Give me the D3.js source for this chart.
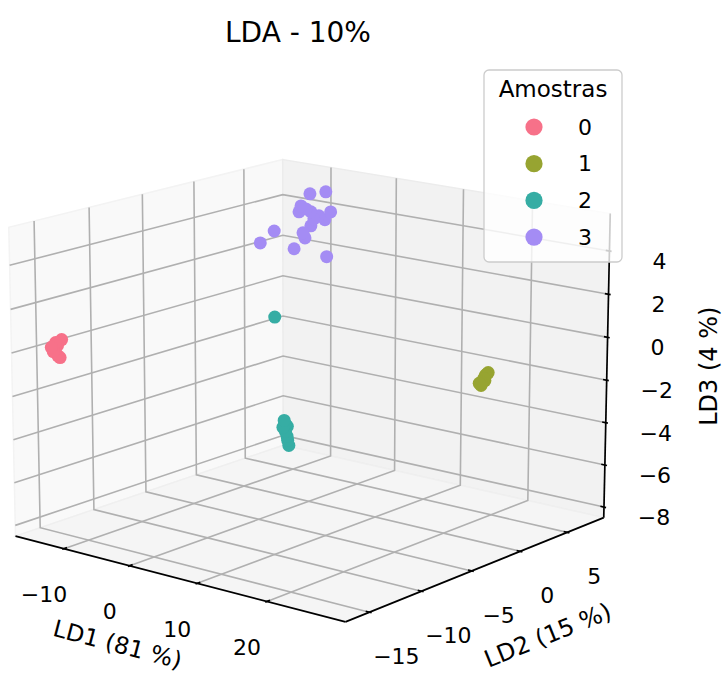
<!DOCTYPE html>
<html>
<head>
<meta charset="utf-8">
<script src="https://cdn.jsdelivr.net/npm/d3@7/dist/d3.min.js"></script>
<style>
  html, body { margin: 0; padding: 0; background: #ffffff; }
  svg { display: block; font-family: "DejaVu Sans", sans-serif; }
</style>
</head>
<body>
<svg id="chart" width="723" height="676"></svg>
<script>
// ---- Data: LDA scores per sample class (LD1, LD2, LD3) ----
const classes = ["0", "1", "2", "3"];
const classColors = ["#f77189", "#97a431", "#36ada4", "#a48cf4"];

const ld1_0 = [-14.42, -14.55, -14.61, -14.48, -14.39, -14.52, -14.57, -14.46];
const ld2_0 = [-14.55, -15.02, -15.38, -15.29, -14.93, -14.66, -14.84, -15.11];
const ld3_0 = [0.43, 0.35, 0.18, -0.02, -0.26, -0.39, 0.19, 0.04];

const ld1_1 = [27.58, 27.47, 27.52, 27.44, 27.55, 27.49, 27.41, 27.53];
const ld2_1 = [-1.10, -1.30, -1.49, -1.69, -1.79, -1.20, -1.88, -1.39];
const ld3_1 = [-0.35, -0.45, -0.56, -0.71, -0.83, -0.42, -0.73, -0.67];

const ld1_2 = [-11.74, -11.85, -11.79, -11.88, -11.72, -11.81, -11.77, -11.83, -11.80, -11.80];
const ld2_2 = [5.26, 5.47, 5.16, 5.68, 5.37, 5.47, 5.58, 5.68, 5.78, 4.35];
const ld3_2 = [-6.25, -6.48, -6.58, -6.62, -6.81, -6.73, -7.10, -7.31, -7.58, -1.04];

const ld1_3 = [-8.99, -7.87, -9.62, -9.76, -8.92, -8.36, -7.52, -7.95, -8.92, -9.48, -9.34, -11.51, -12.49, -10.11, -7.80, -8.71, -9.27];
const ld2_3 = [6.13, 7.02, 5.63, 5.52, 6.18, 6.63, 7.29, 6.98, 6.18, 5.74, 5.85, 4.13, 3.35, 5.24, 7.07, 6.35, 5.90];
const ld3_3 = [4.84, 4.89, 4.29, 4.01, 3.98, 3.76, 3.91, 3.55, 3.30, 2.99, 2.74, 3.17, 2.64, 2.25, 1.76, 3.63, 4.13];

const ld1 = [ld1_0, ld1_1, ld1_2, ld1_3];
const ld2 = [ld2_0, ld2_1, ld2_2, ld2_3];
const ld3 = [ld3_0, ld3_1, ld3_2, ld3_3];

// ---- Axes ----
const xLim = [-16.6, 29.95];
const yLim = [-16.72, 8.47];
const zLim = [-8.22, 5.43];
const xTicks = [-10, 0, 10, 20];
const yTicks = [-15, -10, -5, 0, 5];
const zTicks = [-8, -6, -4, -2, 0, 2, 4];
const xLabel = "LD1 (81 %)";
const yLabel = "LD2 (15 %)";
const zLabel = "LD3 (4 %)";
const title = "LDA - 10%";
const legendTitle = "Amostras";

// ---- View / layout ----
const view = { elev: 15, azim: -51, dist: 10 };
const plot = { left: -39.5, top: 42.3, size: 684.5 };
const viewLim = [-0.095, 0.09];

const svg = d3.select("#chart");
const fmt = t => (t < 0 ? "\u2212" + Math.abs(t) : String(t));

// Box aspect (4,4,3) normalised like mplot3d
const aspectNorm = 1.8294640721620434 / Math.hypot(4, 4, 3);
const A = [4 * aspectNorm, 4 * aspectNorm, 3 * aspectNorm];

// Panes extend slightly past the axis limits
const pad = lim => { const d = (lim[1] - lim[0]) / 48; return [lim[0] - d, lim[1] + d]; };
const X3 = pad(xLim), Y3 = pad(yLim), Z3 = pad(zLim);

const wx = d3.scaleLinear().domain(X3).range([0, A[0]]);
const wy = d3.scaleLinear().domain(Y3).range([0, A[1]]);
const wz = d3.scaleLinear().domain(Z3).range([0, A[2]]);

// Camera
const el = view.elev * Math.PI / 180, az = view.azim * Math.PI / 180;
const wDir = [Math.cos(el) * Math.cos(az), Math.cos(el) * Math.sin(az), Math.sin(el)];
const centre = A.map(v => v / 2);
const eye = centre.map((c, i) => c + view.dist * wDir[i]);
const dot = (p, q) => p[0] * q[0] + p[1] * q[1] + p[2] * q[2];
const cross = (p, q) => [p[1] * q[2] - p[2] * q[1], p[2] * q[0] - p[0] * q[2], p[0] * q[1] - p[1] * q[0]];
let uDir = cross([0, 0, 1], wDir);
const un = Math.hypot(...uDir); uDir = uDir.map(c => c / un);
const vDir = cross(wDir, uDir);

const sx = d3.scaleLinear().domain(viewLim).range([plot.left, plot.left + plot.size]);
const sy = d3.scaleLinear().domain(viewLim).range([plot.top + plot.size, plot.top]);

function projectWorld(P) {
  const d = [P[0] - eye[0], P[1] - eye[1], P[2] - eye[2]];
  const depth = -dot(wDir, d);
  return [sx(dot(uDir, d) / depth), sy(dot(vDir, d) / depth), depth];
}
const project = (x, y, z) => projectWorld([wx(x), wy(y), wz(z)]);

// Far / near faces of the box for this view
const xf = wDir[0] > 0 ? X3[0] : X3[1], xn = wDir[0] > 0 ? X3[1] : X3[0];
const yf = wDir[1] > 0 ? Y3[0] : Y3[1], yn = wDir[1] > 0 ? Y3[1] : Y3[0];
const zf = wDir[2] > 0 ? Z3[0] : Z3[1], zn = wDir[2] > 0 ? Z3[1] : Z3[0];

const poly = pts => "M" + pts.map(p => { const q = project(...p); return q[0] + "," + q[1]; }).join("L") + "Z";
const polyline = pts => "M" + pts.map(p => { const q = project(...p); return q[0] + "," + q[1]; }).join("L");

// ---- Panes ----
const panes = svg.append("g");
panes.append("path")
  .attr("d", poly([[xf, Y3[0], Z3[0]], [xf, Y3[1], Z3[0]], [xf, Y3[1], Z3[1]], [xf, Y3[0], Z3[1]]]))
  .attr("fill", "#f9f9f9").attr("stroke", "#f3f3f3").attr("stroke-width", 1.5);
panes.append("path")
  .attr("d", poly([[X3[0], yf, Z3[0]], [X3[1], yf, Z3[0]], [X3[1], yf, Z3[1]], [X3[0], yf, Z3[1]]]))
  .attr("fill", "#f2f2f2").attr("stroke", "#ececec").attr("stroke-width", 1.5);
panes.append("path")
  .attr("d", poly([[X3[0], Y3[0], zf], [X3[1], Y3[0], zf], [X3[1], Y3[1], zf], [X3[0], Y3[1], zf]]))
  .attr("fill", "#f5f5f5").attr("stroke", "#efefef").attr("stroke-width", 1.5);

// ---- Grid ----
const grid = svg.append("g").attr("fill", "none").attr("stroke", "#b0b0b0").attr("stroke-width", 1.6);
xTicks.forEach(t => grid.append("path").attr("d", polyline([[t, yn, zf], [t, yf, zf], [t, yf, zn]])));
yTicks.forEach(t => grid.append("path").attr("d", polyline([[xn, t, zf], [xf, t, zf], [xf, t, zn]])));
zTicks.forEach(t => grid.append("path").attr("d", polyline([[xf, yn, t], [xf, yf, t], [xn, yf, t]])));

// ---- Axis lines, ticks, labels ----
const axes = svg.append("g");
const axisStroke = g => g.attr("stroke", "#000").attr("stroke-width", 1.7).attr("fill", "none");
const xEdge = [[X3[0], yn, zf], [X3[1], yn, zf]];
const yEdge = [[xn, Y3[0], zf], [xn, Y3[1], zf]];
const zEdge = [[xn, yf, Z3[0]], [xn, yf, Z3[1]]];
[xEdge, yEdge, zEdge].forEach(e => axes.append("path").attr("d", polyline(e)).call(axisStroke));

const tickIn = 0.012, tickOut = 0.007;
const segPath = (P, Q) => { const a = projectWorld(P), b = projectWorld(Q); return `M${a[0]},${a[1]}L${b[0]},${b[1]}`; };
const yInSign = Math.sign(yf - yn), xInSign = Math.sign(xf - xn);

const tickLabels = svg.append("g").attr("font-size", 22).attr("fill", "#000")
  .attr("text-anchor", "middle").attr("dominant-baseline", "central");

const xLabOff = [-20, 46], yLabOff = [27, 44.5], zLabOff = [50, 10.5];

xTicks.forEach(t => {
  const P = [wx(t), wy(yn), wz(zf)];
  axes.append("path").call(axisStroke)
    .attr("d", segPath([P[0], P[1] - yInSign * tickOut, P[2]], [P[0], P[1] + yInSign * tickIn, P[2]]));
  const s = projectWorld(P);
  tickLabels.append("text").attr("x", s[0] + xLabOff[0]).attr("y", s[1] + xLabOff[1]).text(fmt(t));
});
yTicks.forEach(t => {
  const P = [wx(xn), wy(t), wz(zf)];
  axes.append("path").call(axisStroke)
    .attr("d", segPath([P[0] - xInSign * tickOut, P[1], P[2]], [P[0] + xInSign * tickIn, P[1], P[2]]));
  const s = projectWorld(P);
  tickLabels.append("text").attr("x", s[0] + yLabOff[0]).attr("y", s[1] + yLabOff[1]).text(fmt(t));
});
zTicks.forEach(t => {
  const P = [wx(xn), wy(yf), wz(t)];
  axes.append("path").call(axisStroke)
    .attr("d", segPath([P[0] - xInSign * tickOut, P[1], P[2]], [P[0] + xInSign * tickIn, P[1], P[2]]));
  const s = projectWorld(P);
  tickLabels.append("text").attr("x", s[0] + zLabOff[0]).attr("y", s[1] + zLabOff[1]).text(fmt(t));
});

// Axis titles, placed off the middle of each edge and turned along it
function axisTitle(edge, text, off, vertical, size) {
  const a = project(...edge[0]), b = project(...edge[1]);
  const mid = project((edge[0][0] + edge[1][0]) / 2, (edge[0][1] + edge[1][1]) / 2, (edge[0][2] + edge[1][2]) / 2);
  const ang = vertical ? -90 : Math.atan2(b[1] - a[1], b[0] - a[0]) * 180 / Math.PI;
  const x = mid[0] + off[0], y = mid[1] + off[1];
  svg.append("text").attr("font-size", size).attr("fill", "#000")
    .attr("text-anchor", "middle").attr("dominant-baseline", "central")
    .attr("transform", `translate(${x},${y}) rotate(${ang})`).text(text);
}
axisTitle(xEdge, xLabel, [-57, 67], false, 23.5);
axisTitle(yEdge, yLabel, [67.5, 68], false, 24);
axisTitle(zEdge, zLabel, [102.5, -1], true, 24);

// ---- Points (far first) ----
const pts = [];
classes.forEach((c, ci) => {
  ld1[ci].forEach((v, i) => {
    const p = project(v, ld2[ci][i], ld3[ci][i]);
    pts.push({ x: p[0], y: p[1], depth: p[2], color: classColors[ci] });
  });
});
pts.sort((a, b) => b.depth - a.depth);
svg.append("g").selectAll("circle").data(pts).join("circle")
  .attr("cx", d => d.x).attr("cy", d => d.y).attr("r", 6.5).attr("fill", d => d.color);

// ---- Title ----
svg.append("text").attr("x", 298).attr("y", 41.5).attr("text-anchor", "middle")
  .attr("font-size", 28).attr("fill", "#000").text(title);

// ---- Legend ----
const leg = svg.append("g").attr("transform", "translate(484,70)");
leg.append("rect").attr("width", 138).attr("height", 192).attr("rx", 5)
  .attr("fill", "#fff").attr("fill-opacity", 0.8).attr("stroke", "#cccccc").attr("stroke-width", 1.3);
leg.append("text").attr("x", 69).attr("y", 27).attr("text-anchor", "middle")
  .attr("font-size", 23).attr("fill", "#000").text(legendTitle);
const rows = leg.selectAll("g.row").data(classes).join("g").attr("class", "row")
  .attr("transform", (d, i) => `translate(0,${57 + i * 36.7})`);
rows.append("circle").attr("cx", 50).attr("r", 8.6).attr("fill", (d, i) => classColors[i]);
rows.append("text").attr("x", 94).attr("dominant-baseline", "central")
  .attr("font-size", 22).attr("fill", "#000").text(d => d);
</script>
</body>
</html>
